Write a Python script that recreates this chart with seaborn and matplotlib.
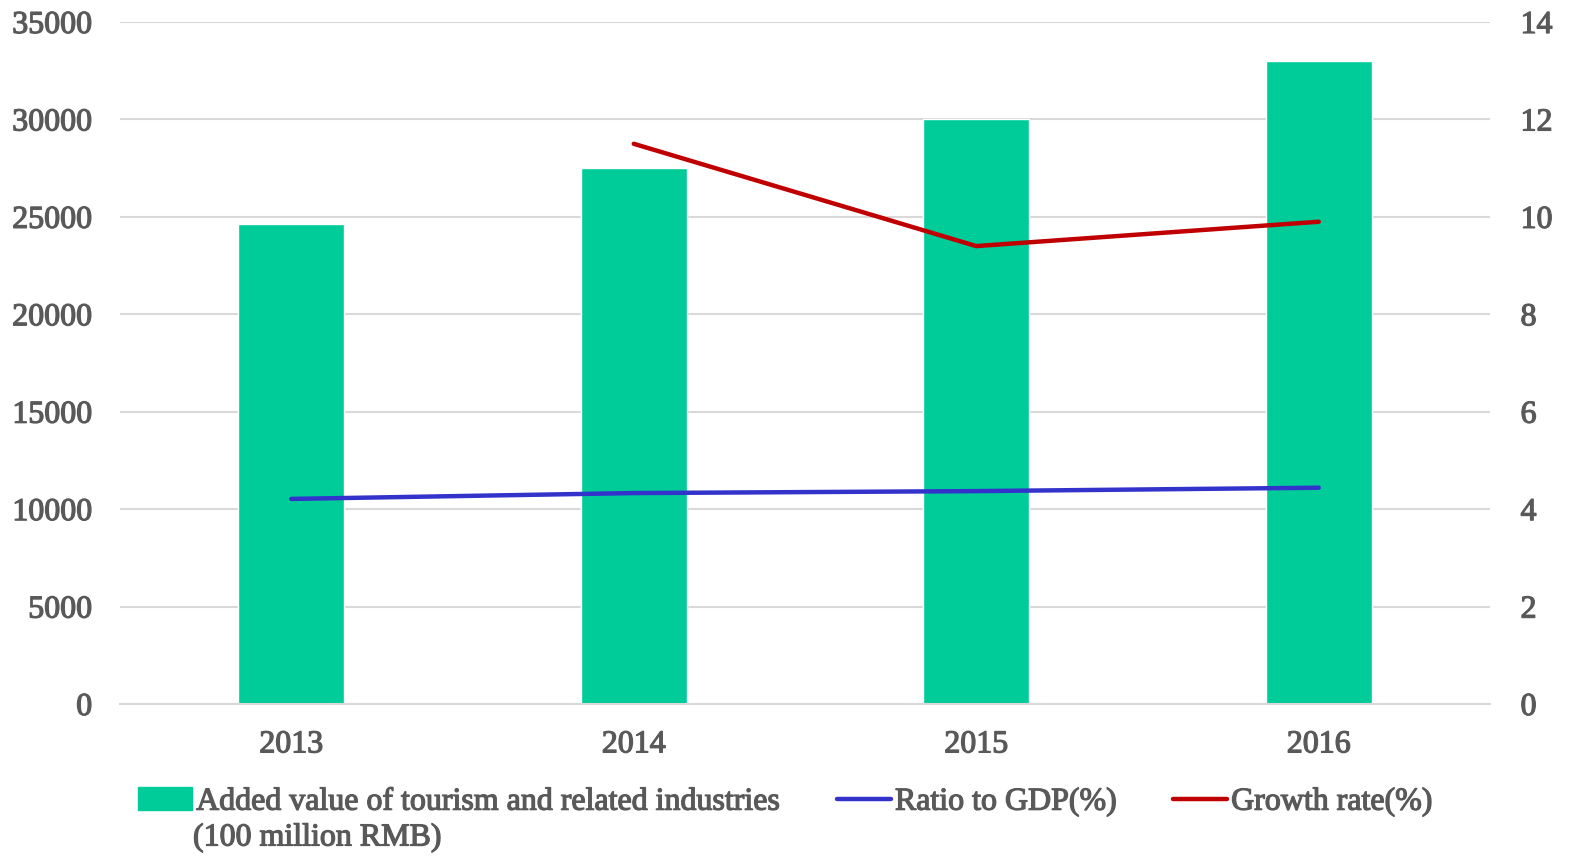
import pandas as pd
import matplotlib
matplotlib.use('Agg')
import matplotlib.pyplot as plt
import matplotlib.patheffects as pe
import seaborn as sns
from matplotlib.patches import Patch
from matplotlib.lines import Line2D

# Data
years = ['2013', '2014', '2015', '2016']
added_value = [24620, 27524, 30017, 32979]       # 100 million RMB
ratio_gdp = [4.21, 4.33, 4.37, 4.44]             # %
growth_rate = [None, 11.5, 9.4, 9.9]             # %

BAR_COLOR = '#00CC99'
BLUE = '#3333CC'
RED = '#C00000'
TEXT = '#595959'
GRID = '#D9D9D9'

df = pd.DataFrame({'year': years, 'added': added_value,
                   'ratio': ratio_gdp, 'growth': growth_rate})

sns.set_style('white')
plt.rcParams['font.family'] = ['Liberation Serif', 'DejaVu Serif']
FS = 23
thick = [pe.withStroke(linewidth=0.9, foreground=TEXT)]

fig = plt.figure(figsize=(15.71, 8.57), dpi=100)
ax = fig.add_axes([120 / 1571, 1 - 704 / 857, 1370 / 1571, 682 / 857])

sns.barplot(data=df, x='year', y='added', color=BAR_COLOR, width=0.31,
            saturation=1, ax=ax)
ax.set_xlim(-0.5, 3.5)
ax.set_ylim(0, 35000)
ax.set_yticks(range(0, 35001, 5000))
ax.set_xlabel('')
ax.set_ylabel('')
ax.grid(axis='y', color=GRID, lw=1.5)
ax.set_axisbelow(True)
for s in ['top', 'left', 'right']:
    ax.spines[s].set_visible(False)
ax.spines['bottom'].set_color(GRID)
ax.spines['bottom'].set_linewidth(1.5)
ax.tick_params(axis='y', length=0, pad=20, labelsize=FS, labelcolor=TEXT)
ax.tick_params(axis='x', length=0, pad=19, labelsize=FS, labelcolor=TEXT)

ax2 = ax.twinx()
pos = list(range(len(years)))
sns.lineplot(x=pos, y=df['ratio'], color=BLUE, lw=3.2, ax=ax2)
sns.lineplot(x=pos, y=df['growth'], color=RED, lw=3.2, ax=ax2)
ax2.set_ylim(0, 14)
ax2.set_yticks(range(0, 15, 2))
ax2.set_ylabel('')
ax2.grid(False)
for s in ['top', 'left', 'right', 'bottom']:
    ax2.spines[s].set_visible(False)
ax2.tick_params(axis='y', length=0, pad=22, labelsize=FS, labelcolor=TEXT)
ax.set_xlim(-0.5, 3.5)

for lab in ax.get_xticklabels() + ax.get_yticklabels() + ax2.get_yticklabels():
    lab.set_path_effects(thick)

handles = [Patch(color=BAR_COLOR),
           Line2D([], [], color=BLUE, lw=3.2),
           Line2D([], [], color=RED, lw=3.2)]
labels = ['Added value of tourism and related industries',
          'Ratio to GDP(%)', 'Growth rate(%)']
leg = fig.legend(handles, labels, ncol=3, loc='center left',
                 bbox_to_anchor=(138 / 1571, 1 - 802 / 857), frameon=False,
                 fontsize=FS, handlelength=1.7, handletextpad=0.12,
                 columnspacing=1.75, borderaxespad=0, borderpad=0)
for t in leg.get_texts():
    t.set_color(TEXT)
    t.set_path_effects(thick)
fig.text(193 / 1571, 1 - 838 / 857, '(100 million RMB)', fontsize=FS,
         color=TEXT, va='center', ha='left', path_effects=thick)

fig.savefig('out.png', dpi=100)
